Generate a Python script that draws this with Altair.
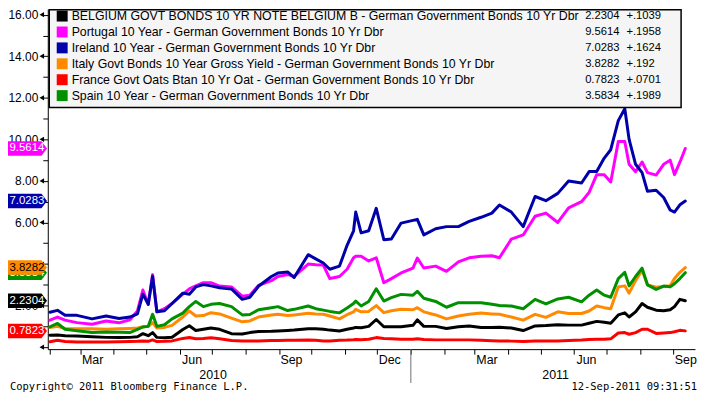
import altair as alt
import pandas as pd

# ---------------- data ----------------
dates = ["2010-02-01","2010-02-08","2010-02-15","2010-02-26","2010-03-12","2010-03-25","2010-04-06","2010-04-16",
         "2010-04-23","2010-04-28","2010-05-03","2010-05-07","2010-05-11","2010-05-18","2010-05-25","2010-06-04",
         "2010-06-10","2010-06-16","2010-06-23","2010-06-30","2010-07-08","2010-07-19","2010-07-29","2010-08-05",
         "2010-08-13","2010-08-25","2010-08-31","2010-09-09","2010-09-15","2010-09-28","2010-10-05","2010-10-12",
         "2010-10-18","2010-10-27","2010-11-03","2010-11-09","2010-11-11","2010-11-16","2010-11-23","2010-11-30",
         "2010-12-07","2010-12-14","2010-12-23","2011-01-03","2011-01-07","2011-01-13","2011-01-24","2011-02-03",
         "2011-02-14","2011-02-24","2011-03-07","2011-03-17","2011-03-24","2011-04-04","2011-04-15","2011-04-26",
         "2011-05-06","2011-05-17","2011-05-27","2011-06-08","2011-06-15","2011-06-22","2011-06-29","2011-07-05",
         "2011-07-12","2011-07-18","2011-07-22","2011-07-28","2011-08-03","2011-08-08","2011-08-16","2011-08-23",
         "2011-08-29","2011-09-02","2011-09-07","2011-09-12"]

belgium = [0.57,0.58,0.55,0.54,0.5,0.47,0.46,0.47,0.5,0.65,0.55,0.7,0.47,0.45,0.48,0.85,1.03,0.8,0.86,0.92,
           0.86,0.65,0.63,0.7,0.75,0.76,0.78,0.8,0.82,0.89,0.88,0.86,0.82,0.78,0.86,0.92,0.95,0.93,1.0,1.33,
           0.98,0.98,0.98,1.05,1.31,1.0,1.0,0.9,0.98,1.02,0.95,0.94,0.96,0.92,0.8,1.02,1.04,1.08,1.06,1.06,
           1.15,1.24,1.2,1.15,1.55,1.65,1.45,1.7,2.1,1.92,1.78,1.75,1.8,1.95,2.3,2.2304]
portugal = [1.3,1.45,1.3,1.18,1.1,1.26,1.17,1.32,1.74,2.75,2.06,3.49,1.7,1.85,2.1,2.55,2.8,2.95,3.1,3.1,
            2.94,2.9,2.45,2.5,2.97,3.2,3.4,3.49,3.41,4.0,3.97,3.95,3.3,3.4,3.75,4.3,4.37,4.37,4.15,4.3,
            3.1,3.3,3.57,3.8,4.29,3.81,3.9,3.65,4.1,4.3,4.37,4.4,4.3,5.2,5.4,6.3,6.45,6.0,6.7,7.0,
            7.45,8.3,8.3,7.95,9.9,9.9,8.8,8.44,8.91,8.4,8.28,8.8,9.0,8.3,8.9,9.5614]
ireland = [1.68,1.77,1.53,1.53,1.36,1.5,1.38,1.45,1.6,2.55,2.06,3.41,1.7,1.75,2.1,2.6,2.55,2.9,3.01,2.95,
           2.86,2.8,2.3,2.4,2.93,3.4,3.57,3.62,3.35,4.45,4.25,4.05,3.75,3.9,4.9,5.6,6.5,5.5,5.6,6.68,
           5.17,5.2,5.97,6.1,6.15,5.4,5.7,5.8,5.8,6.05,6.25,6.45,6.84,6.5,5.8,7.25,7.05,7.4,8.0,7.9,
           8.45,8.45,9.1,9.5,10.9,11.47,10.0,8.8,8.4,7.5,7.55,7.2,6.6,6.5,6.85,7.0283]
italy = [0.95,1.0,0.9,0.88,0.88,0.86,0.88,0.9,0.92,0.98,1.0,1.18,0.92,0.95,1.05,1.45,1.74,1.5,1.52,1.66,
         1.6,1.4,1.22,1.26,1.45,1.55,1.58,1.52,1.55,1.63,1.6,1.58,1.5,1.36,1.56,1.7,1.82,1.7,1.72,2.0,
         1.66,1.75,1.82,1.8,1.9,1.7,1.55,1.36,1.5,1.58,1.64,1.6,1.58,1.45,1.3,1.58,1.43,1.7,1.62,1.62,
         1.74,1.98,1.9,1.85,2.9,2.95,2.6,3.2,3.7,3.0,2.88,2.92,2.95,3.3,3.6,3.8282]
france = [0.26,0.33,0.27,0.25,0.25,0.25,0.26,0.27,0.28,0.3,0.28,0.35,0.27,0.28,0.3,0.42,0.46,0.4,0.42,0.45,
          0.4,0.32,0.3,0.3,0.3,0.32,0.32,0.33,0.33,0.34,0.33,0.3,0.3,0.33,0.34,0.36,0.37,0.36,0.38,0.46,
          0.42,0.4,0.38,0.38,0.4,0.37,0.35,0.35,0.35,0.35,0.33,0.31,0.3,0.29,0.27,0.3,0.3,0.3,0.32,0.34,
          0.37,0.38,0.38,0.4,0.68,0.7,0.62,0.7,0.86,0.86,0.66,0.68,0.7,0.74,0.81,0.7823]
spain = [0.98,1.14,0.86,0.79,0.70,0.73,0.72,0.70,0.85,0.97,1.0,1.58,1.0,1.08,1.36,1.64,1.95,2.2,1.95,2.06,
         2.1,1.95,1.55,1.57,1.8,1.9,1.95,1.76,1.82,1.98,1.85,1.78,1.72,1.65,1.88,2.1,2.22,1.98,2.2,2.81,
         2.22,2.38,2.54,2.5,2.69,2.35,2.2,1.92,2.14,2.14,2.14,2.06,2.0,1.98,1.85,2.3,2.08,2.32,2.4,2.18,
         2.5,2.75,2.5,2.4,3.3,3.6,2.95,3.4,3.8,3.0,2.78,2.94,2.9,3.05,3.3,3.5834]

names = ["BELGIUM GOVT BONDS 10 YR NOTE BELGIUM B - German Government Bonds 10 Yr Dbr",
         "Portugal 10 Year - German Government Bonds 10 Yr Dbr",
         "Ireland 10 Year - German Government Bonds 10 Yr Dbr",
         "Italy Govt Bonds 10 Year Gross Yield - German Government Bonds 10 Yr Dbr",
         "France Govt Oats Btan 10 Yr Oat - German Government Bonds 10 Yr Dbr",
         "Spain 10 Year - German Government Bonds 10 Yr Dbr"]
last_labels = ["2.2304", "9.5614", "7.0283", "3.8282", "0.7823", "3.5834"]
last_values = [2.2304, 9.5614, 7.0283, 3.8282, 0.7823, 3.5834]
changes = ["+.1039", "+.1958", "+.1624", "+.192", "+.0701", "+.1989"]
colors = ["#000000", "#FF00FF", "#0000AA", "#FF8A00", "#FF0000", "#009000"]
tag_text_colors = ["#FFFFFF", "#FFFFFF", "#FFFFFF", "#000000", "#FFFFFF", "#FFFFFF"]
tag_under = [False, False, False, False, False, True]   # Spain's tag sits under Italy's

y_ticks = list(range(0, 17))
y_major = list(range(0, 17, 2))
y_labelled = [2, 6, 8, 10, 12, 14, 16]   # 0 and 4 are not shown (4 is under a tag)
month_ticks = [(2010, m) for m in range(2, 13)] + [(2011, m) for m in range(1, 10)]
year_labels = ["2010", "2011"]
year_label_dates = ["2010-07-02", "2011-05-15"]
year_break = ["2011-01-01"]
footer_left = "Copyright\u00a9 2011 Bloomberg Finance L.P."
footer_right = "12-Sep-2011 09:31:51"

FONT = "Liberation Sans"

# ---------------- tables ----------------
series_values = [belgium, portugal, ireland, italy, france, spain]
rows = []
for n, vals in zip(names, series_values):
    for d, v in zip(dates, vals):
        rows.append({"date": d, "value": v, "series": n})
lines_df = pd.DataFrame(rows)

legend_df = pd.DataFrame({"series": names, "last": last_labels, "change": changes, "row": list(range(6))})
tag_df = pd.DataFrame({"series": names, "lastnum": last_values, "last": last_labels,
                       "tc": tag_text_colors, "under": tag_under})
major_df = pd.DataFrame({"v": y_major})
year_df = pd.DataFrame({"label": year_labels, "date": year_label_dates})
break_df = pd.DataFrame({"date": year_break})
one = pd.DataFrame({"a": [0]})

# ---------------- scales / axes ----------------
xscale = alt.Scale(domain=[alt.DateTime(year=2010, month=1, date=30, utc=True),
                           alt.DateTime(year=2011, month=9, date=21, utc=True)], nice=False)
yscale = alt.Scale(domain=[-0.096, 16.268], nice=False, zero=False)
color_scale = alt.Scale(domain=names, range=colors)

xaxis = alt.Axis(
    values=[alt.DateTime(year=y, month=m, date=1, utc=True) for y, m in month_ticks],
    labelExpr="indexof([2,5,8,11], utcmonth(datum.value)) >= 0 ? utcFormat(datum.value, '%b') : ''",
    labelOffset=12, tickSize=5, tickColor="black", domainColor="black", grid=False, title=None,
    labelFont=FONT, labelFontSize=12.5, labelColor="black", labelBaseline="alphabetic", labelPadding=9,
    labelOverlap=False, labelFlush=False, labelBound=False)
yaxis = alt.Axis(
    values=y_ticks,
    labelExpr="indexof(" + str(y_labelled) + ", datum.value) >= 0 ? format(datum.value, '.2f') : ''",
    tickSize=5, tickColor="black", domainColor="black", grid=False, title=None,
    labelFont=FONT, labelFontSize=12, labelColor="black", labelPadding=5, labelOverlap=False,
    labelFlush=False)


def xenc(field="date"):
    return alt.X(field, type="temporal", scale=xscale, axis=xaxis)


def yenc(field):
    return alt.Y(field, type="quantitative", scale=yscale, axis=yaxis)


layers = []

# series lines (drawn in legend order)
for n in names:
    layers.append(
        alt.Chart(lines_df).transform_filter(alt.datum.series == n)
        .mark_line(strokeWidth=3, strokeJoin="round", strokeCap="round")
        .encode(x=xenc(), y=yenc("value"),
                color=alt.Color("series:N", scale=color_scale, legend=None))
    )

# major y ticks drawn as little arrows
layers.append(
    alt.Chart(major_df).mark_point(shape="triangle-left", filled=True, size=28, color="black", opacity=1)
    .encode(x=alt.value(-6), y=yenc("v"))
)

# year separator and year labels
layers.append(
    alt.Chart(break_df).mark_rule(color="#707070", strokeWidth=1)
    .encode(x=xenc(), y=alt.value(342), y2=alt.value(376))
)
layers.append(
    alt.Chart(year_df).mark_text(font=FONT, fontSize=12.5, color="black", baseline="alphabetic", align="center")
    .encode(x=xenc(), y=alt.value(372), text="label:N")
)

# last-value tags on the y axis (lower tag first, then the rest on top)
tag_path = "M-1,-0.37L0.72,-0.37L1,0L0.72,0.37L-1,0.37Z"
for flag in [True, False]:
    base = alt.Chart(tag_df).transform_filter(alt.datum.under == flag)
    layers.append(
        base.mark_point(shape=tag_path, filled=True, size=1560, opacity=1, strokeWidth=0)
        .encode(x=alt.value(-20.5), y=yenc("lastnum"),
                color=alt.Color("series:N", scale=color_scale, legend=None))
    )
    layers.append(
        base.mark_text(font=FONT, fontSize=11.5, align="left", baseline="middle")
        .encode(x=alt.value(-38.5), y=yenc("lastnum"), text="last:N",
                color=alt.Color("tc:N", scale=None))
    )

# legend box
layers.append(
    alt.Chart(one).mark_rect(fill="#F5F5F5", stroke="black", strokeWidth=1.5)
    .encode(x=alt.value(1.5), x2=alt.value(637), y=alt.value(0.75), y2=alt.value(99))
)
ly = alt.Y("ly:Q", scale=None)
leg = alt.Chart(legend_df).transform_calculate(ly="7 + 16 * datum.row")
layers.append(
    leg.mark_square(size=121, opacity=1, filled=True)
    .encode(x=alt.value(14.5), y=ly, color=alt.Color("series:N", scale=color_scale, legend=None))
)
layers.append(
    leg.mark_text(font=FONT, fontSize=12.4, align="left", baseline="middle", color="black")
    .encode(x=alt.value(24), y=ly, text="series:N")
)
layers.append(
    leg.mark_text(font=FONT, fontSize=11.3, align="right", baseline="middle", color="black")
    .encode(x=alt.value(575), y=ly, text="last:N")
)
layers.append(
    leg.mark_text(font=FONT, fontSize=11.3, align="left", baseline="middle", color="black")
    .encode(x=alt.value(582), y=ly, text="change:N")
)

# footer
layers.append(
    alt.Chart(one).mark_text(font="DejaVu Sans Mono", fontSize=10.5, align="left", baseline="alphabetic",
                             color="black", text=footer_left)
    .encode(x=alt.value(-38), y=alt.value(383))
)
layers.append(
    alt.Chart(one).mark_text(font="DejaVu Sans Mono", fontSize=10.5, align="right", baseline="alphabetic",
                             color="black", text=footer_right)
    .encode(x=alt.value(653), y=alt.value(383))
)

chart = alt.layer(*layers).properties(
    width=651, height=342,
    padding={"left": 40, "top": 0, "right": 3, "bottom": 44},
    autosize=alt.AutoSizeParams(type="none"),
    background="white",
).configure_view(stroke=None)

chart.save("out.html", embed_options={"renderer": "svg", "actions": False})
